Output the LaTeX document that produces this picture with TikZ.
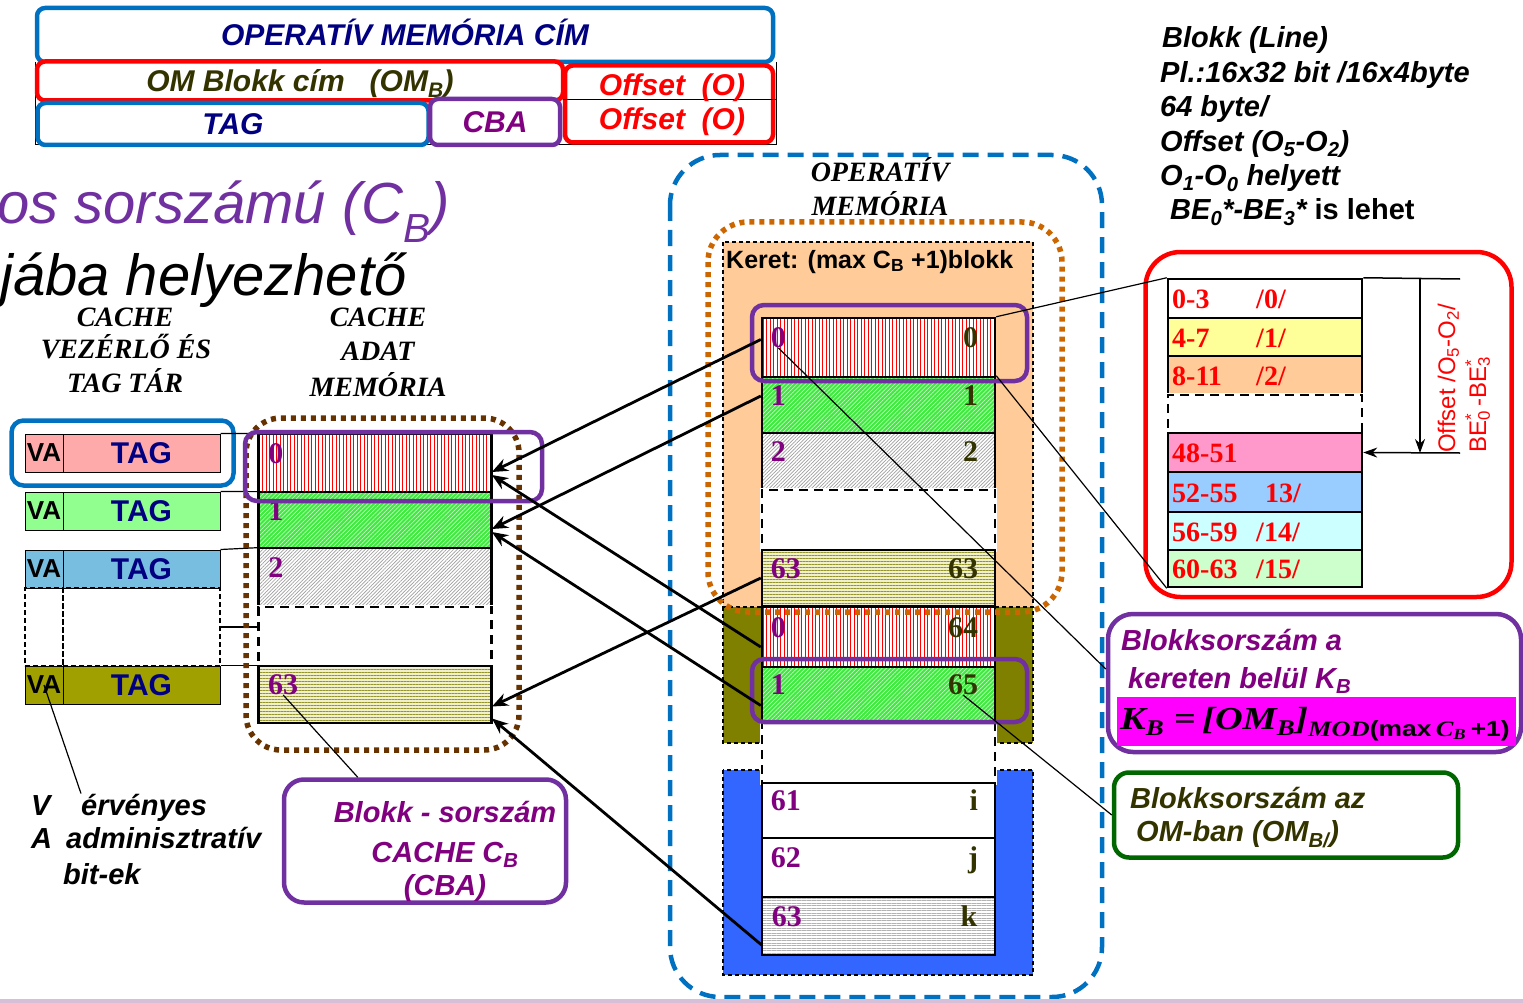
\documentclass[tikz,border=0pt]{standalone}
\usepackage{fontspec}
\usepackage{graphicx}
\setmainfont{Liberation Sans}
\newfontfamily\tms{Liberation Serif}
\usetikzlibrary{arrows.meta,positioning,patterns.meta,fit}

\definecolor{omblue}{RGB}{0,112,192}
\definecolor{navy}{RGB}{0,0,128}
\definecolor{cbapurple}{RGB}{112,48,160}
\definecolor{lblpurple}{RGB}{128,0,128}
\definecolor{darkolive}{RGB}{51,51,0}
\definecolor{dotbrown}{RGB}{102,51,0}
\definecolor{dotorange}{RGB}{204,102,0}
\definecolor{peach}{RGB}{255,204,153}
\definecolor{olivefr}{RGB}{128,128,0}
\definecolor{bluefr}{RGB}{51,102,255}
\definecolor{tagpink}{RGB}{255,170,170}
\definecolor{taggreen}{RGB}{144,255,144}
\definecolor{tagblue}{RGB}{120,190,225}
\definecolor{tagolive}{RGB}{160,160,0}
\definecolor{grnfill}{RGB}{60,235,60}
\definecolor{olvfill}{RGB}{240,240,205}
\definecolor{olvline}{RGB}{150,150,40}
\definecolor{notegreen}{RGB}{0,102,0}
\definecolor{tyellow}{RGB}{255,255,153}
\definecolor{tpink}{RGB}{255,153,204}
\definecolor{tlblue}{RGB}{153,204,255}
\definecolor{tcyan}{RGB}{204,255,255}
\definecolor{tgreen}{RGB}{204,255,204}
\definecolor{lavender}{RGB}{216,191,216}
\definecolor{fullmagenta}{RGB}{255,0,255}

\newcommand{\subsup}[2]{\rlap{\textsuperscript{#2}}\textsubscript{#1}}

\begin{document}
\begin{tikzpicture}[x=1pt,y=-1pt,
  every node/.style={inner sep=0pt},
  hdr/.style={draw, rounded corners=8pt, line width=4.5pt, fill=white, text height=21pt, text depth=0pt,
    font=\bfseries\itshape\fontsize{30}{32}\selectfont},
  hdrtxt/.style={anchor=base, text=red, font=\bfseries\itshape\fontsize{30}{32}\selectfont},
  rtxt/.style={anchor=base west, font=\bfseries\itshape\fontsize{29}{31}\selectfont},
  bigtxt/.style={anchor=base west, font=\itshape\fontsize{58}{60}\selectfont},
  capt/.style={anchor=base, font=\tms\bfseries\itshape\fontsize{28}{30}\selectfont},
  boxtxt/.style={anchor=base west, font=\bfseries\itshape\fontsize{29}{31}\selectfont},
  vacell/.style={draw, line width=1pt, minimum width=38pt, minimum height=38pt,
    font=\bfseries\fontsize{26}{28}\selectfont},
  tagcell/.style={draw, line width=1pt, minimum width=157pt, minimum height=38pt,
    text=navy, font=\bfseries\fontsize{30}{32}\selectfont},
  blk/.style={draw, line width=2.5pt, minimum width=233pt},
  gapblk/.style={fill=white, preaction={draw=white, solid, line width=4pt}, dash pattern=on 9pt off 6pt},
  redstr/.style={preaction={fill=white}, pattern={Lines[angle=90,distance=3.5pt,line width=0.8pt]}, pattern color=red},
  grnstr/.style={preaction={fill=grnfill}, pattern={Lines[angle=45,distance=3pt,line width=0.7pt]}, pattern color=white!70!grnfill},
  grystr/.style={preaction={fill=white}, pattern={Lines[angle=45,distance=2.5pt,line width=0.7pt]}, pattern color=gray!75},
  olvstr/.style={preaction={fill=olvfill}, pattern={Lines[angle=0,distance=3pt,line width=1pt]}, pattern color=olvline},
  hgrstr/.style={preaction={fill=white}, pattern={Lines[angle=0,distance=2.5pt,line width=0.8pt]}, pattern color=gray!60},
  whtblk/.style={fill=white},
  lblL/.style={anchor=base west, xshift=10pt, text=lblpurple, font=\tms\bfseries\fontsize{30}{32}\selectfont},
  lblR/.style={anchor=base east, xshift=-18pt, text=darkolive, font=\tms\bfseries\fontsize{30}{32}\selectfont},
  trow/.style={draw, line width=2.5pt, minimum width=194pt},
  ttxt/.style={anchor=base west, text=red, font=\tms\bfseries\fontsize{28}{30}\selectfont},
  selbox/.style={line width=4.5pt, rounded corners=12pt},
  dotln/.style={line width=5.5pt, dash pattern=on 5pt off 5pt, rounded corners=35pt},
  frm/.style={line width=1.2pt, dash pattern=on 4pt off 3pt},
  arrw/.style={line width=2.8pt, -{Stealth[length=16pt,width=13pt]}},
  thinln/.style={line width=1.2pt}
]
\useasboundingbox (0,0) rectangle (1523,1003);

% operativ memoria cim
\draw[line width=1pt] (35,62) -- (35,145) -- (776,145) -- (776,62);
\node[hdr, draw=omblue, text=navy, minimum width=736pt, minimum height=54pt] (omcim) at (405,35) {OPERATÍV MEMÓRIA CÍM};
\node[hdr, draw=red, text=darkolive, minimum width=526pt, minimum height=39pt] (omblokk) at (300,81) {OM Blokk cím~~~(OM\textsubscript{B})};
\node[hdr, draw=omblue, text=navy, minimum width=391pt, minimum height=42pt] (tagf) at (233,124) {TAG};
\node[hdr, draw=cbapurple, text=lblpurple, minimum width=130pt, minimum height=46pt] (cbaf) at (495,122) {CBA};
\node[hdr, draw=red, minimum width=208pt, minimum height=77pt] (offsf) at (669,104) {};
\draw[line width=1pt] (563,100) -- (776,100);
\node[hdrtxt] (offs1) at (672,96) {Offset~~(O)};
\node[hdrtxt] (offs2) at (672,130) {Offset~~(O)};

\foreach \k/\x/\t in {1/1162/{Blokk (Line)}, 2/1160/{Pl.:16x32 bit /16x4byte}, 3/1160/{64 byte/},
  4/1160/{Offset (O\textsubscript{5}-O\textsubscript{2})}, 5/1160/{O\textsubscript{1}-O\textsubscript{0} helyett},
  6/1170/{BE\textsubscript{0}*-BE\textsubscript{3}* {\upshape is lehet}}} {
  \node[rtxt] (rt\k) at (\x,13.6+34.4*\k) {\t};
}

\node[bigtxt, text=cbapurple] (cbtitle) at (-3,223) {os sorszámú (C\textsubscript{B})};
\node[bigtxt] (hely) at (0,295) {jába helyezhető};

\node[capt] (cv1) at (125,326) {CACHE};
\node[capt] (cv2) at (126,358) {VEZÉRLŐ ÉS};
\node[capt] (cv3) at (125,392) {TAG TÁR};
\node[capt] (ca1) at (378,326) {CACHE};
\node[capt] (ca2) at (378,360) {ADAT};
\node[capt] (ca3) at (378,396) {MEMÓRIA};

% tag tar
\foreach \i/\y/\c in {1/453/tagpink, 2/511/taggreen, 3/569/tagblue, 5/685/tagolive} {
  \node[vacell, fill=\c] (va\i) at (44,\y) {VA};
  \node[tagcell, fill=\c] (tag\i) at (141.5,\y) {TAG};
}
\node[vacell, line width=2pt, dash pattern=on 5pt off 3pt, minimum height=78pt] (va4) at (44,627) {};
\node[tagcell, line width=2pt, dash pattern=on 5pt off 3pt, minimum height=78pt] (tag4) at (141.5,627) {};
\node[selbox, draw=omblue, fit=(va1)(tag1), inner xsep=13pt, inner ysep=13pt] (tagsel) {};

% cache adat memoria
\foreach \n/\y/\h/\s/\l in {c0/463/58/redstr/0, c1/520/56/grnstr/1, c2/577.5/59/grystr/2,
  cg/636.5/59/gapblk/{}, c63/694.5/57/olvstr/63} {
  \node[blk, \s, minimum height=\h] (\n) at (375,\y) {};
  \node[lblL] (\n L) at (\n.west) {\l};
}
\draw[thinln] (tag1.north east) -- (c0.north west);
\draw[thinln] (tag2.north east) -- (c1.north west);
\draw[thinln] (tag3.north east) -- (c2.north west);
\draw[thinln] (tag4.east) -- (tag4.east -| cg.west);
\draw[thinln] (tag5.north east) -- (c63.north west);
\draw[dotln, draw=dotbrown] (246,418) rectangle (519,750);
\draw[selbox, draw=cbapurple] (245,432) rectangle (542,501);

% operativ memoria
\draw[omblue, line width=4.5pt, dash pattern=on 16pt off 9pt, rounded corners=50pt] (670,155) rectangle (1102,997);
\node[capt] (omt1) at (880,182) {OPERATÍV};
\node[capt] (omt2) at (880,215) {MEMÓRIA};
\draw[frm, fill=peach] (723,242) rectangle (1033,607);
\draw[frm, fill=olivefr] (723,607) rectangle (1033,743);
\draw[frm, fill=bluefr] (723,770) rectangle (1033,975);
\node[anchor=base west, font=\bfseries\fontsize{25}{27}\selectfont] (keret) at (726,268) {Keret: (max C\textsubscript{B} +1)blokk};
\foreach \n/\y/\h/\s/\l/\r in {m0/347.5/59/redstr/0/0, m1/405/56/grnstr/1/1, m2/461.5/57/grystr/2/2,
  gA/520/60/gapblk/{}/{}, m63/578/56/olvstr/63/63, m64/637/60/redstr/0/64, m65/694.5/55/grnstr/1/65,
  gB/752.5/61/gapblk/{}/{}, m61/810.5/55/whtblk/61/i, m62/867.5/59/whtblk/62/j, m63k/926/58/hgrstr/63/k} {
  \node[blk, \s, minimum height=\h] (\n) at (878.5,\y) {};
  \node[lblL] (\n L) at (\n.west) {\l};
  \node[lblR] (\n R) at (\n.east) {\r};
}
\draw[dotln, draw=dotorange, rounded corners=40pt] (708,222) rectangle (1062,612);
\draw[selbox, draw=cbapurple] (752,305) rectangle (1027,381);
\draw[selbox, draw=cbapurple] (752,659) rectangle (1027,722);

% blokk -> cache
\draw[arrw] ([yshift=8pt]m0.west) -- ([yshift=-9pt]c0.east);
\draw[arrw] ([yshift=9pt]m1.west) -- ([yshift=-9pt]c1.east);
\draw[arrw] ([yshift=-10pt]m64.west) -- ([yshift=-12pt]c0.east);
\draw[arrw] ([yshift=-11pt]m65.west) -- ([yshift=-12pt]c1.east);
\draw[arrw] (m63.west) -- ([yshift=-12pt]c63.east);
\draw[arrw] ([yshift=-19pt]m63k.west) -- ([yshift=-24pt]c63.east);

% blokk szerkezet
\node[selbox, draw=red, minimum width=366pt, minimum height=345pt, rounded corners=35pt] (tblbox) at (1328.5,424.5) {};
\foreach \i/\y/\h/\s/\c/\a/\b/\bx in {0/298.5/39/solid/white/{0-3}/{/0/}/1256, 1/337/38/solid/tyellow/{4-7}/{/1/}/1256,
  2/375.5/39/solid/peach/{8-11}/{/2/}/1256, 9/414/38/gapblk/white/{}/{}/1256,
  12/452.5/39/solid/tpink/{48-51}/{}/1256, 13/492/40/solid/tlblue/{52-55}/{13/}/1265,
  14/531/38/solid/tcyan/{56-59}/{/14/}/1256, 15/568.5/37/solid/tgreen/{60-63}/{/15/}/1256} {
  \node[trow, \s, fill=\c, minimum height=\h] (t\i) at (1265,\y) {};
  \node[ttxt] (t\i a) at (1172,\y+10) {\a};
  \node[ttxt] (t\i b) at (\bx,\y+10) {\b};
}
\coordinate (obrA) at (1460,279);
\coordinate (obrB) at (1460,453);
\coordinate (oarA) at (1420,279);
\coordinate (oarB) at (1420,453);
\draw[line width=1.5pt] (t0.north east) -- (obrA);
\draw[line width=1.5pt, -{Stealth[length=14pt,width=10pt]}] (oarA) -- (oarB);
\draw[line width=1.5pt, -{Stealth[length=14pt,width=10pt]}] (obrB) -- (t12.east);
\node[rotate=90, anchor=base west, text=red, font=\fontsize{24}{26}\selectfont] (offrot) at (1455,453) {Offset /O\textsubscript{5}-O\textsubscript{2}/};
\node[rotate=90, anchor=base west, text=red, font=\fontsize{24}{26}\selectfont] (berot) at (1486,453) {BE\subsup{0}{*}\,-BE\subsup{3}{*}};

% kereten beluli sorszam
\node[selbox, draw=cbapurple, minimum width=413pt, minimum height=138pt, rounded corners=25pt] (kbbox) at (1314.5,683) {};
\node[fill=fullmagenta, minimum width=399pt, minimum height=49pt] (kbband) at (1316.5,721.5) {};
\node[boxtxt, text=lblpurple] (kb1) at (1121,650) {Blokksorszám a};
\node[boxtxt, text=lblpurple] (kb2) at (1128,688) {kereten belül K\textsubscript{B}};
\node[anchor=base west] (kbform) at (1120,729) {\scalebox{1.2}[1]{\tms\bfseries\itshape\fontsize{32}{34}\selectfont
  K\textsubscript{B} =\,[OM\textsubscript{B}]\raisebox{-7pt}{\fontsize{22}{24}\selectfont MOD{\upshape\rmfamily (max}\,C\textsubscript{B}{\upshape\rmfamily\,+1)}}}};

\node[selbox, draw=notegreen, minimum width=344pt, minimum height=85pt, rounded corners=15pt] (grnbox) at (1286,815) {};
\node[boxtxt, text=darkolive] (gb1) at (1130,808) {Blokksorszám az};
\node[boxtxt, text=darkolive] (gb2) at (1136,841) {OM-ban (OM\textsubscript{B/})};

\node[selbox, draw=cbapurple, minimum width=282pt, minimum height=123pt, rounded corners=20pt] (cbabox) at (425,841) {};
\node[boxtxt, anchor=base, text=lblpurple] (cb1) at (445,822) {Blokk - sorszám};
\node[boxtxt, anchor=base, text=lblpurple] (cb2) at (445,862) {CACHE C\textsubscript{B}};
\node[boxtxt, anchor=base, text=lblpurple] (cb3) at (445,895) {(CBA)};

\node[boxtxt] (vv) at (31,815) {V};
\node[boxtxt] (verv) at (81,815) {érvényes};
\node[boxtxt] (aa) at (31,848) {A};
\node[boxtxt] (aadm) at (66,848) {adminisztratív};
\node[boxtxt] (bitek) at (63,884) {bit-ek};

% vekony vonalak
\draw[thinln] (m0L.south) -- ([yshift=14pt]kbbox.west);
\draw[thinln] (m0.north east) -- (t0.north west);
\draw[thinln] (m1.north east) -- (t15.south west);
\draw[thinln] (m65R.south) -- (grnbox.west);
\draw[thinln] (c63L.south) -- ([xshift=76pt]cbabox.north west);
\draw[thinln] (va5.center) -- (verv.north west);

\fill[lavender] (0,999) rectangle (1523,1003);
\end{tikzpicture}
\end{document}
